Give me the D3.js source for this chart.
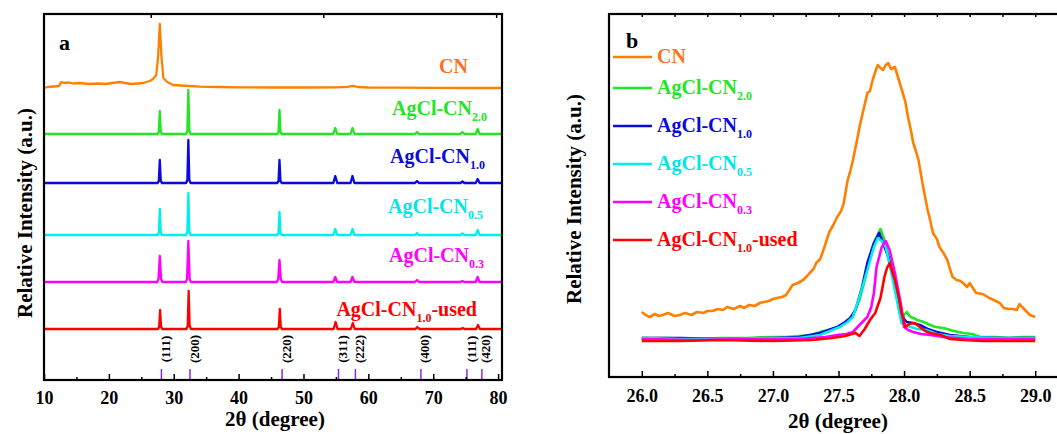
<!DOCTYPE html>
<html>
<head>
<meta charset="utf-8">
<script src="https://cdn.jsdelivr.net/npm/d3@7"></script>
<style>
  body { margin: 0; background: #fff; }
  svg text { font-family: "Liberation Serif", "Times New Roman", serif; font-weight: bold; }
</style>
</head>
<body>
<svg id="chart" width="1057" height="434"></svg>
<script>
// ---- panel a: stacked XRD patterns (intensity above each trace's own baseline)
const namesA = ['CN', 'AgCl-CN2.0', 'AgCl-CN1.0', 'AgCl-CN0.5', 'AgCl-CN0.3', 'AgCl-CN1.0-used'];
const offsetsA = [292, 246, 197, 145, 98, 51];

const traceCN = [[10,0],[10.6,1],[11.5,1.5],[12.3,2],[12.7,6],[13.2,5],[13.8,5.5],[14.5,4.5],[15.5,5],[16.3,4.5],[17,4],[18.5,4.5],[19.5,4],[20.5,5],[21.7,6],[22.5,5],[23.5,4],[24.5,4.5],[25.3,5],[26.3,7],[26.8,9],[27.3,13],[27.6,32],[27.85,64],[28.1,32],[28.4,10],[29,6],[29.9,3],[31,2.5],[32.5,2],[34,1.3],[37,1],[40,0.6],[45,0.5],[50,0.5],[55,0.6],[56.8,1.2],[57.6,2.2],[58.4,1],[60,0.5],[65,0.3],[70,0.2],[75,0],[80.6,0]];
const traceAg20 = [[10,0],[27.5,0],[27.7,2],[27.85,23],[28.0,2],[28.2,0],[31.9,0],[32.1,3],[32.25,44],[32.4,3],[32.6,0],[45.95,0],[46.15,2],[46.3,24],[46.45,2],[46.65,0],[54.6,0],[54.9,6],[55.2,0],[57.25,0],[57.55,6],[57.85,0],[67.2,0],[67.5,2],[67.8,0],[74.2,0],[74.5,2],[74.8,0],[76.55,0],[76.85,5],[77.15,0],[80.6,0]];
const traceAg10 = [[10,0],[27.5,0],[27.7,2],[27.85,23],[28.0,2],[28.2,0],[31.9,0],[32.1,3],[32.25,43],[32.4,3],[32.6,0],[45.95,0],[46.15,2],[46.3,23],[46.45,2],[46.65,0],[54.6,0],[54.9,7],[55.2,0],[57.25,0],[57.55,7],[57.85,0],[67.2,0],[67.5,2],[67.8,0],[74.2,0],[74.5,1.5],[74.8,0],[76.55,0],[76.85,4],[77.15,0],[80.6,0]];
const traceAg05 = [[10,0],[27.5,0],[27.7,2],[27.85,26],[28.0,2],[28.2,0],[31.9,0],[32.1,3],[32.25,42],[32.4,3],[32.6,0],[45.95,0],[46.15,2],[46.3,23],[46.45,2],[46.65,0],[54.6,0],[54.9,6],[55.2,0],[57.25,0],[57.55,6],[57.85,0],[67.2,0],[67.5,2],[67.8,0],[74.2,0],[74.5,1.5],[74.8,0],[76.55,0],[76.85,5],[77.15,0],[80.6,0]];
const traceAg03 = [[10,0],[27.45,0],[27.65,3],[27.85,26],[28.05,3],[28.25,0],[31.85,0],[32.05,3],[32.25,41],[32.45,3],[32.65,0],[45.9,0],[46.1,3],[46.3,22],[46.5,3],[46.7,0],[54.6,0],[54.9,5],[55.2,0],[57.25,0],[57.55,5],[57.85,0],[67.2,0],[67.5,2],[67.8,0],[74.2,0],[74.5,1],[74.8,0],[76.55,0],[76.85,5],[77.15,0],[80.6,0]];
const traceUsed = [[10,0],[27.55,0],[27.75,2],[27.9,19],[28.05,2],[28.25,0],[31.95,0],[32.15,3],[32.3,38],[32.45,3],[32.65,0],[46.0,0],[46.2,2],[46.35,20],[46.5,2],[46.7,0],[54.65,0],[54.95,7],[55.25,0],[57.3,0],[57.6,6],[57.9,0],[67.25,0],[67.55,2],[67.85,0],[74.25,0],[74.55,1],[74.85,0],[76.6,0],[76.9,4],[77.2,0],[80.6,0]];
const tracesA = [traceCN, traceAg20, traceAg10, traceAg05, traceAg03, traceUsed];

const hklLabels = ['(111)', '(200)', '(220)', '(311)', '(222)', '(400)', '(111)', '(420)'];
const hklPos = [28.1, 32.5, 46.7, 55.4, 58.0, 68.1, 75.2, 77.5];

const ticksA = [10, 20, 30, 40, 50, 60, 70, 80];
const minorA = [15, 25, 35, 45, 55, 65, 75];
const topTicksA = [26.45, 53.05, 79.7];

// ---- panel b: zoom on the 27.8 degree region
const namesB = ['CN', 'AgCl-CN2.0', 'AgCl-CN1.0', 'AgCl-CN0.5', 'AgCl-CN0.3', 'AgCl-CN1.0-used'];
const bCN = [[26.0,65],[26.03,62],[26.06,60],[26.1,63],[26.13,61],[26.16,62],[26.2,64],[26.25,61],[26.29,62],[26.33,64],[26.38,62],[26.42,65],[26.47,64],[26.5,66],[26.54,66],[26.58,68],[26.62,67],[26.65,70],[26.7,68],[26.75,71],[26.78,69],[26.82,72],[26.86,71],[26.9,74],[26.93,75],[26.97,76],[27.0,78],[27.03,79],[27.07,80],[27.1,82],[27.13,88],[27.15,92],[27.19,94],[27.23,97],[27.26,101],[27.28,104],[27.31,108],[27.33,114],[27.36,118],[27.38,125],[27.41,137],[27.43,145],[27.46,152],[27.49,160],[27.52,166],[27.54,174],[27.57,197],[27.59,206],[27.61,217],[27.64,236],[27.66,250],[27.69,267],[27.72,284],[27.74,286],[27.76,297],[27.78,305],[27.8,312],[27.82,309],[27.84,307],[27.86,312],[27.88,314],[27.9,308],[27.93,310],[27.96,297],[27.99,284],[28.01,275],[28.03,260],[28.05,248],[28.07,234],[28.09,226],[28.11,217],[28.14,194],[28.16,180],[28.18,167],[28.2,156],[28.22,144],[28.25,138],[28.27,130],[28.3,124],[28.33,117],[28.35,108],[28.37,100],[28.4,97],[28.43,96],[28.45,94],[28.48,90],[28.5,94],[28.53,88],[28.55,84],[28.6,83],[28.65,79],[28.7,76],[28.73,74],[28.76,69],[28.8,68],[28.83,68],[28.86,67],[28.88,73],[28.9,70],[28.93,66],[28.96,62],[29.0,60]];
const bAg20 = [[26.0,39],[26.2,39],[26.4,38],[26.6,39],[26.8,39],[27.0,40],[27.1,40],[27.2,41],[27.3,42],[27.36,45],[27.45,48],[27.51,50],[27.56,55],[27.61,62],[27.66,77],[27.7,97],[27.74,120],[27.78,137],[27.82,148],[27.85,137],[27.89,117],[27.93,97],[27.96,78],[27.98,65],[28.0,62],[28.02,65],[28.05,60],[28.07,59],[28.1,57],[28.15,55],[28.2,52],[28.24,50],[28.3,49],[28.38,46],[28.45,44],[28.52,43],[28.58,40],[28.7,40],[28.8,39],[28.9,40],[29.0,40]];
const bAg10 = [[26.0,39],[26.3,39],[26.6,38],[27.0,39],[27.2,40],[27.36,44],[27.49,50],[27.55,55],[27.59,59],[27.63,67],[27.68,90],[27.72,114],[27.77,134],[27.81,144],[27.84,134],[27.88,120],[27.92,97],[27.97,67],[28.0,58],[28.02,55],[28.07,54],[28.12,52],[28.18,48],[28.25,45],[28.35,42],[28.5,40],[28.7,39],[29.0,39]];
const bAg05 = [[26.0,39],[26.3,38],[26.6,38],[27.0,39],[27.2,39],[27.36,42],[27.51,50],[27.57,55],[27.61,60],[27.66,80],[27.72,107],[27.77,130],[27.8,139],[27.83,136],[27.86,130],[27.91,100],[27.96,67],[27.98,54],[28.02,51],[28.05,50],[28.1,48],[28.17,47],[28.25,43],[28.35,41],[28.5,40],[28.7,39],[29.0,39]];
const bAg03 = [[26.0,38],[26.4,37],[26.8,38],[27.2,38],[27.4,40],[27.49,42],[27.56,43],[27.61,45],[27.66,52],[27.72,60],[27.75,70],[27.77,84],[27.79,110],[27.83,130],[27.86,136],[27.89,127],[27.93,104],[27.98,70],[28.0,50],[28.03,47],[28.07,45],[28.13,43],[28.2,42],[28.3,40],[28.5,38],[28.7,38],[29.0,38]];
const bUsed = [[26.0,36],[26.3,36],[26.6,37],[27.0,36],[27.3,37],[27.45,39],[27.55,41],[27.63,44],[27.66,41],[27.7,48],[27.74,57],[27.78,64],[27.82,79],[27.85,100],[27.87,109],[27.89,114],[27.93,97],[27.96,80],[27.98,64],[28.01,50],[28.04,53],[28.08,54],[28.12,50],[28.16,46],[28.2,44],[28.28,42],[28.35,38],[28.45,37],[28.6,36],[28.8,36],[29.0,36]];
const tracesB = [bCN, bAg20, bAg10, bAg05, bAg03, bUsed];

const ticksB = [26.0, 26.5, 27.0, 27.5, 28.0, 28.5, 29.0];
const minorB = [26.25, 26.75, 27.25, 27.75, 28.25, 28.75];

const lineColors = ['#ff8000', '#22e622', '#0a0adc', '#00eeee', '#ff00ff', '#ff0000'];
const textColors = ['#ff7020', '#22e622', '#0a0adc', '#00e6e6', '#ff00ff', '#ff0000'];

const svg = d3.select('#chart');

// helper: "AgCl-CN2.0-used" -> main + subscript + tail
function addLabel(sel, name, color) {
  const m = name.match(/^(AgCl-CN)(\d\.\d)(.*)$/);
  sel.attr('fill', color);
  if (!m) {
    sel.text(name);
    return;
  }
  sel.append('tspan').text(m[1]);
  sel.append('tspan').attr('font-size', 12).attr('dy', 6).text(m[2]);
  if (m[3]) sel.append('tspan').attr('dy', -6).text(m[3]);
}

// ================= panel a =================
const xA = d3.scaleLinear().domain([10, 80.6]).range([44, 502]);
const yA = d3.scaleLinear().domain([0, 366]).range([380, 14]);
const gA = svg.append('g');

tracesA.forEach((tr, i) => {
  const line = d3.line()
    .x(d => xA(d[0]))
    .y(d => yA(offsetsA[i] + d[1]));
  gA.append('path')
    .attr('d', line(tr))
    .attr('fill', 'none')
    .attr('stroke', lineColors[i])
    .attr('stroke-width', 2.3)
    .attr('stroke-linejoin', 'round');
});

// labels on the right of each trace
const labelEndA = [468, 487, 485, 483, 484, 477];
const labelBaseA = [73, 115, 163, 213, 262, 316];
namesA.forEach((n, i) => {
  const t = gA.append('text')
    .attr('x', labelEndA[i])
    .attr('y', labelBaseA[i])
    .attr('text-anchor', 'end')
    .attr('font-size', 20);
  addLabel(t, n, textColors[i]);
});

// hkl reference marks
gA.selectAll('.hkl-tick')
  .data(hklPos)
  .enter()
  .append('line')
  .attr('x1', d => xA(d))
  .attr('x2', d => xA(d))
  .attr('y1', 369)
  .attr('y2', 380)
  .attr('stroke', '#8a2be2')
  .attr('stroke-width', 1.5);

gA.selectAll('.hkl-label')
  .data(hklPos)
  .enter()
  .append('text')
  .attr('transform', d => `translate(${xA(d) + 4},349) rotate(-90)`)
  .attr('text-anchor', 'middle')
  .attr('dy', '0.35em')
  .attr('font-size', 13)
  .attr('fill', '#000')
  .text((d, i) => hklLabels[i]);

// axes
gA.append('g')
  .attr('transform', 'translate(0,380)')
  .call(d3.axisBottom(xA).tickValues(ticksA).tickSizeInner(-6).tickSizeOuter(0).tickPadding(11))
  .call(g => g.select('.domain').remove())
  .call(g => g.selectAll('line').attr('stroke-width', 1.5))
  .call(g => g.selectAll('text').attr('font-size', 18).attr('font-family', null).attr('fill', '#000'));

gA.append('g')
  .attr('transform', 'translate(0,380)')
  .call(d3.axisBottom(xA).tickValues(minorA).tickSizeInner(-3).tickSizeOuter(0).tickFormat(''))
  .call(g => g.select('.domain').remove())
  .call(g => g.selectAll('line').attr('stroke-width', 1.5));

gA.append('g')
  .attr('transform', 'translate(0,14)')
  .call(d3.axisTop(xA).tickValues(topTicksA).tickSizeInner(-4).tickSizeOuter(0).tickFormat(''))
  .call(g => g.select('.domain').remove())
  .call(g => g.selectAll('line').attr('stroke-width', 1.5));

gA.append('rect')
  .attr('x', 44).attr('y', 14)
  .attr('width', 458).attr('height', 366)
  .attr('fill', 'none')
  .attr('stroke', '#000')
  .attr('stroke-width', 2.2);

gA.append('text')
  .attr('x', 59).attr('y', 50)
  .attr('font-size', 22)
  .text('a');

gA.append('text')
  .attr('x', 275).attr('y', 426)
  .attr('text-anchor', 'middle')
  .attr('font-size', 21)
  .text('2θ (degree)');

gA.append('text')
  .attr('transform', 'translate(32,213) rotate(-90)')
  .attr('text-anchor', 'middle')
  .attr('font-size', 21)
  .text('Relative Intensity (a.u.)');

// ================= panel b =================
const xB = d3.scaleLinear().domain([25.75, 29.25]).range([609, 1068]);
const yB = d3.scaleLinear().domain([0, 363]).range([377, 14]);
const gB = svg.append('g');

tracesB.forEach((tr, i) => {
  const line = d3.line()
    .x(d => xB(d[0]))
    .y(d => yB(d[1]));
  gB.append('path')
    .attr('d', line(tr))
    .attr('fill', 'none')
    .attr('stroke', lineColors[i])
    .attr('stroke-width', 2.6)
    .attr('stroke-linejoin', 'round');
});

// legend
const legendY = [57, 88, 126, 164, 202, 240];
namesB.forEach((n, i) => {
  gB.append('line')
    .attr('x1', 613).attr('x2', 652)
    .attr('y1', legendY[i]).attr('y2', legendY[i])
    .attr('stroke', lineColors[i])
    .attr('stroke-width', 2.6);
  const t = gB.append('text')
    .attr('x', 657)
    .attr('y', legendY[i] + 6)
    .attr('font-size', 20);
  addLabel(t, n, textColors[i]);
});

gB.append('g')
  .attr('transform', 'translate(0,377)')
  .call(d3.axisBottom(xB).tickValues(ticksB).tickSizeInner(-6).tickSizeOuter(0).tickPadding(12).tickFormat(d3.format('.1f')))
  .call(g => g.select('.domain').remove())
  .call(g => g.selectAll('line').attr('stroke-width', 1.5))
  .call(g => g.selectAll('text').attr('font-size', 18).attr('font-family', null).attr('fill', '#000'));

gB.append('g')
  .attr('transform', 'translate(0,377)')
  .call(d3.axisBottom(xB).tickValues(minorB).tickSizeInner(-3).tickSizeOuter(0).tickFormat(''))
  .call(g => g.select('.domain').remove())
  .call(g => g.selectAll('line').attr('stroke-width', 1.5));

gB.append('g')
  .attr('transform', 'translate(0,14)')
  .call(d3.axisTop(xB).tickValues(ticksB.concat(minorB)).tickSizeInner(-3).tickSizeOuter(0).tickFormat(''))
  .call(g => g.select('.domain').remove())
  .call(g => g.selectAll('line').attr('stroke-width', 1.5));

gB.append('rect')
  .attr('x', 609).attr('y', 14)
  .attr('width', 459).attr('height', 363)
  .attr('fill', 'none')
  .attr('stroke', '#000')
  .attr('stroke-width', 2.2);

gB.append('text')
  .attr('x', 626).attr('y', 48)
  .attr('font-size', 22)
  .text('b');

gB.append('text')
  .attr('x', 838).attr('y', 428)
  .attr('text-anchor', 'middle')
  .attr('font-size', 21)
  .text('2θ (degree)');

gB.append('text')
  .attr('transform', 'translate(581,199) rotate(-90)')
  .attr('text-anchor', 'middle')
  .attr('font-size', 21)
  .text('Relative Intensity (a.u.)');
</script>
</body>
</html>
